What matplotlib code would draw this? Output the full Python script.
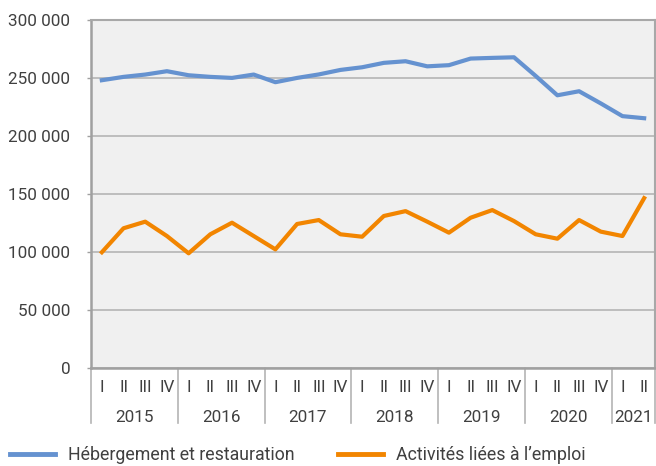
import matplotlib
matplotlib.use("Agg")
import matplotlib.pyplot as plt
from matplotlib.lines import Line2D
import matplotlib.transforms as mtransforms
from matplotlib.ticker import FuncFormatter

plt.rcParams['font.family'] = ['Roboto', 'DejaVu Sans']

years = ["2015", "2016", "2017", "2018", "2019", "2020", "2021"]
quarters_per_year = [4, 4, 4, 4, 4, 4, 2]
quarter_names = ["I", "II", "III", "IV"]

hebergement = [248000, 250900, 252900, 255800, 252300, 250900, 250000, 252900,
               246300, 250000, 253000, 256900, 259200, 263000, 264400, 260000,
               261000, 266700, 267300, 267800, 251700, 235000, 238500, 228000,
               217000, 215200]
activites = [99500, 120200, 125900, 113500, 98600, 115000, 125000, 113500,
             102000, 123900, 127300, 115000, 112900, 130800, 135000, 125900,
             116400, 129300, 135900, 126400, 115000, 111200, 127300, 117300,
             113500, 146200]

series_names = ["Hébergement et restauration", "Activités liées à l’emploi"]
colors = ["#6592d0", "#f28500"]
text_color = "#404040"
fs = 12.3
fs_leg = 12.8

quarter_labels = []
for n in quarters_per_year:
    quarter_labels += quarter_names[:n]
x = list(range(len(quarter_labels)))

fig = plt.figure(figsize=(6.56, 4.66), dpi=100)
ax = fig.add_axes([91/656, 1 - 367.5/466, (655 - 91)/656, (367.5 - 20)/466])
ax.set_facecolor("#f0f0f0")

l1, = ax.plot(x, hebergement, color=colors[0], lw=3.0, solid_joinstyle='round', zorder=3)
l2, = ax.plot(x, activites, color=colors[1], lw=3.0, solid_joinstyle='round', zorder=3)

ax.set_xlim(-0.5, len(x) - 0.5)
ax.set_ylim(0, 300000)
ax.set_yticks(range(0, 300001, 50000))
ax.yaxis.set_major_formatter(FuncFormatter(lambda v, p: f"{int(v):,}".replace(",", " ")))
ax.grid(axis='y', color="#b4b4b4", lw=1.2)
ax.set_axisbelow(True)

for s in ["top", "right"]:
    ax.spines[s].set_color("#a8a8a8")
    ax.spines[s].set_linewidth(1.5)
ax.spines["left"].set_color("#a0a0a0")
ax.spines["left"].set_linewidth(1.8)
ax.spines["bottom"].set_color("#a0a0a0")
ax.spines["bottom"].set_linewidth(1.8)

ax.tick_params(axis='y', length=3, width=1, color="#a0a0a0", labelsize=fs,
               labelcolor=text_color, pad=12)
ax.set_xticks(x)
ax.set_xticklabels(quarter_labels)
ax.tick_params(axis='x', length=0, labelsize=fs, labelcolor=text_color, pad=9)

trans = mtransforms.blended_transform_factory(ax.transData, ax.transAxes)
h_axes = (367.5 - 20)
sep_bottom = -(423 - 367.5) / h_axes
year_y = -(418 - 367.5) / h_axes
start = 0
bounds = [-0.5]
for yr, n in zip(years, quarters_per_year):
    center = start + (n - 1) / 2
    ax.text(center, year_y, yr, transform=trans, ha='center', va='center',
            fontsize=fs, color=text_color)
    start += n
    bounds.append(start - 0.5)
for b in bounds:
    ax.plot([b, b], [0, sep_bottom], transform=trans, color="#b4b4b4", lw=1.2,
            clip_on=False)

h1 = Line2D([], [], color=colors[0], lw=3.5)
h2 = Line2D([], [], color=colors[1], lw=3.5)
fig.legend([h1, h2], series_names, loc='center left', bbox_to_anchor=(10/656, 1 - 455/466),
           ncol=2, frameon=False, fontsize=fs_leg, handlelength=2.53, handletextpad=0.73,
           columnspacing=2.45, labelcolor=text_color, borderaxespad=0.0, borderpad=0.0)

fig.savefig("out.png", dpi=100)
